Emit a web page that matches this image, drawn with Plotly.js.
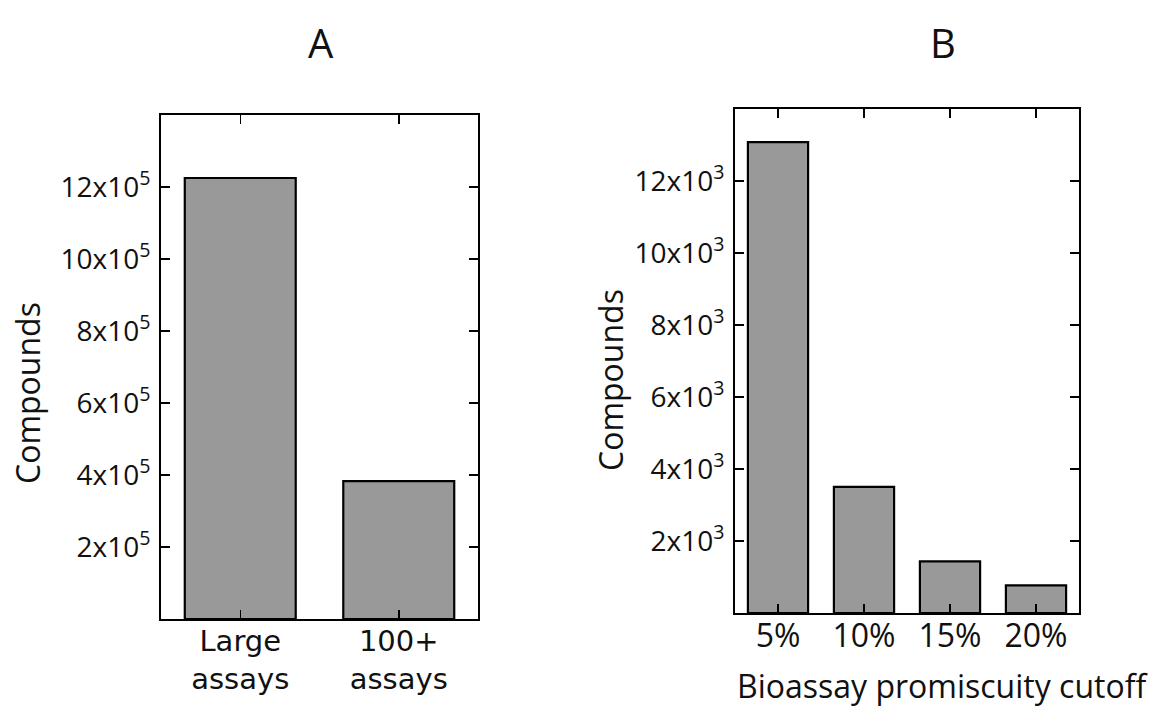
<!DOCTYPE html>
<html><head><meta charset="utf-8">
<script src="https://cdn.plot.ly/plotly-3.0.1.min.js"></script>
<style>html,body{margin:0;padding:0;background:#fff}#chart{width:1155px;height:706px}</style>
</head><body><div id="chart"></div>
<script>
// Panel A data
const categoriesA = ['Large<br>assays', '100+<br>assays'];
const compoundsA = [1225000, 383000];
const yTickValsA = [200000, 400000, 600000, 800000, 1000000, 1200000];
const yTickTextA = ['2x10<sup>5</sup>', '4x10<sup>5</sup>', '6x10<sup>5</sup>', '8x10<sup>5</sup>', '10x10<sup>5</sup>', '12x10<sup>5</sup>'];

// Panel B data
const categoriesB = ['5%', '10%', '15%', '20%'];
const compoundsB = [13080, 3505, 1434, 765];
const yTickValsB = [2000, 4000, 6000, 8000, 10000, 12000];
const yTickTextB = ['2x10<sup>3</sup>', '4x10<sup>3</sup>', '6x10<sup>3</sup>', '8x10<sup>3</sup>', '10x10<sup>3</sup>', '12x10<sup>3</sup>'];

const W = 1155, H = 706;
const px = v => v / W;
const py = v => 1 - v / H;

const barStyle = { color: '#999999', line: { color: '#000', width: 2.2 } };

const traces = [
  { type: 'bar', x: categoriesA, y: compoundsA, width: 0.7, marker: barStyle, xaxis: 'x', yaxis: 'y', hoverinfo: 'skip' },
  { type: 'bar', x: categoriesB, y: compoundsB, width: 0.7, marker: barStyle, xaxis: 'x2', yaxis: 'y2', hoverinfo: 'skip' }
];

const axCommon = {
  showline: true, mirror: 'ticks', linecolor: '#000', linewidth: 2,
  ticks: 'inside', ticklen: 9, tickwidth: 1.5, tickcolor: '#000',
  showgrid: false, zeroline: false, automargin: false, fixedrange: true
};

const layout = {
  width: W, height: H,
  margin: { l: 0, r: 0, t: 0, b: 0 },
  paper_bgcolor: '#fff', plot_bgcolor: '#fff',
  showlegend: false,
  font: { family: 'Open Sans, sans-serif', color: '#111' },
  xaxis: Object.assign({}, axCommon, {
    domain: [px(161), px(478)], anchor: 'y', type: 'category', range: [-0.5, 1.5],
    tickfont: { family: 'DejaVu Sans', size: 29, color: '#111' },
    ticklabelstandoff: -5
  }),
  yaxis: Object.assign({}, axCommon, {
    domain: [py(619), py(115)], anchor: 'x', range: [0, 1400000],
    tickmode: 'array', tickvals: yTickValsA, ticktext: yTickTextA,
    tickfont: { family: 'Open Sans', size: 28, color: '#111' },
    ticklabelstandoff: 3
  }),
  xaxis2: Object.assign({}, axCommon, {
    domain: [px(735), px(1079)], anchor: 'y2', type: 'category', range: [-0.5, 3.5],
    tickfont: { family: 'Open Sans', size: 32, color: '#111' },
    ticklabelstandoff: -6
  }),
  yaxis2: Object.assign({}, axCommon, {
    domain: [py(613), py(109)], anchor: 'x2', range: [0, 14000],
    tickmode: 'array', tickvals: yTickValsB, ticktext: yTickTextB,
    tickfont: { family: 'Open Sans', size: 28, color: '#111' },
    ticklabelstandoff: 3
  }),
  annotations: [
    { text: 'A', x: px(321), y: py(42), xref: 'paper', yref: 'paper', showarrow: false, xanchor: 'center', yanchor: 'middle', font: { family: 'Open Sans', size: 40, color: '#111' } },
    { text: 'B', x: px(943), y: py(42), xref: 'paper', yref: 'paper', showarrow: false, xanchor: 'center', yanchor: 'middle', font: { family: 'Open Sans', size: 40, color: '#111' } },
    { text: 'Compounds', x: px(27), y: py(393), xref: 'paper', yref: 'paper', showarrow: false, textangle: -90, xanchor: 'center', yanchor: 'middle', font: { family: 'Open Sans', size: 32, color: '#111' } },
    { text: 'Compounds', x: px(611), y: py(380), xref: 'paper', yref: 'paper', showarrow: false, textangle: -90, xanchor: 'center', yanchor: 'middle', font: { family: 'Open Sans', size: 32, color: '#111' } },
    { text: 'Bioassay promiscuity cutoff', x: px(942), y: py(685), xref: 'paper', yref: 'paper', showarrow: false, xanchor: 'center', yanchor: 'middle', font: { family: 'Open Sans', size: 32, color: '#111' } }
  ]
};

Plotly.newPlot('chart', traces, layout, { displayModeBar: false, staticPlot: true });
</script>
</body></html>
